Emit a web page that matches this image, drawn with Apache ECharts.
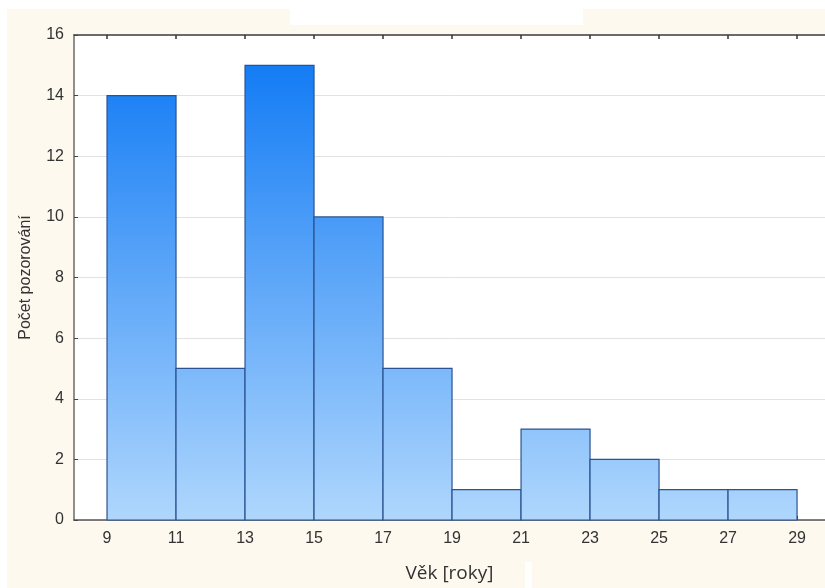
<!DOCTYPE html>
<html>
<head>
<meta charset="utf-8">
<script src="https://cdn.jsdelivr.net/npm/echarts@6/dist/echarts.min.js"></script>
<style>
html,body{margin:0;padding:0;background:#ffffff;}
#chart{width:825px;height:588px;}
</style>
</head>
<body>
<div id="chart"></div>
<script>
// Data
var binStarts = [9, 11, 13, 15, 17, 19, 21, 23, 25, 27];
var binEnds   = [11, 13, 15, 17, 19, 21, 23, 25, 27, 29];
var counts    = [14, 5, 15, 10, 5, 1, 3, 2, 1, 1];
var xTicks    = [9, 11, 13, 15, 17, 19, 21, 23, 25, 27, 29];
var xName = 'Věk [roky]';
var yName = 'Počet pozorování';

var chart = echarts.init(document.getElementById('chart'), null, {renderer: 'canvas'});

var barData = binStarts.map(function (s, i) { return [s, binEnds[i], counts[i]]; });

var gridTop = 35, gridBottomPx = 522;
var fill = new echarts.graphic.LinearGradient(0, gridTop, 0, gridBottomPx, [
  {offset: 0, color: '#0a76f4'},
  {offset: 1, color: '#b0d7fd'}
], true);

var option = {
  backgroundColor: '#fdf9ef',
  animation: false,
  graphic: [
    {type: 'rect', shape: {x: 0, y: 0, width: 825, height: 9}, style: {fill: '#ffffff'}, z: -10},
    {type: 'rect', shape: {x: 0, y: 0, width: 7, height: 588}, style: {fill: '#ffffff'}, z: -10},
    {type: 'rect', shape: {x: 290, y: 0, width: 293, height: 25}, style: {fill: '#ffffff'}, z: -10},
    {type: 'rect', shape: {x: 525, y: 562, width: 7, height: 26}, style: {fill: '#ffffff'}, z: -10},
    {type: 'rect', shape: {x: 74, y: 35, width: 751, height: 487}, style: {fill: '#ffffff'}, z: -9}
  ],
  grid: {left: 74, right: 0, top: gridTop, bottom: 588 - gridBottomPx, containLabel: false},
  xAxis: [
    {
      type: 'value', position: 'bottom', min: 8.043, max: 29.81,
      name: xName, nameLocation: 'middle', nameGap: 44,
      nameTextStyle: {fontFamily: 'Open Sans', fontSize: 19, color: '#333'},
      axisLine: {show: true, onZero: false, lineStyle: {color: '#555', width: 1.5}},
      axisTick: {show: true, inside: true, length: 4, customValues: xTicks, lineStyle: {color: '#333'}},
      axisLabel: {customValues: xTicks, margin: 11, fontFamily: 'Liberation Sans', fontSize: 16, color: '#333'},
      splitLine: {show: false}
    },
    {
      type: 'value', position: 'top', min: 8.043, max: 29.81,
      axisLine: {show: true, onZero: false, lineStyle: {color: '#6a6a6a', width: 2}},
      axisTick: {show: true, inside: true, length: 4, customValues: xTicks, lineStyle: {color: '#333', width: 1.5}},
      axisLabel: {show: false},
      splitLine: {show: false}
    }
  ],
  yAxis: {
    type: 'value', min: 0, max: 16, interval: 2,
    name: yName, nameLocation: 'middle', nameGap: 40, nameRotate: 90,
    nameTextStyle: {fontFamily: 'Liberation Sans', fontSize: 16, color: '#333'},
    axisLine: {show: true, lineStyle: {color: '#6a6a6a', width: 1.5}},
    axisTick: {show: true, inside: true, length: 4, lineStyle: {color: '#444'}},
    axisLabel: {margin: 10, fontFamily: 'Liberation Sans', fontSize: 16, color: '#333'},
    splitLine: {show: true, lineStyle: {color: '#e2e2e2', width: 1}}
  },
  series: [{
    type: 'custom',
    xAxisIndex: 0,
    data: barData,
    encode: {x: [0, 1], y: 2},
    renderItem: function (params, api) {
      var p0 = api.coord([api.value(0), api.value(2)]);
      var p1 = api.coord([api.value(1), 0]);
      return {
        type: 'rect',
        shape: {x: p0[0], y: p0[1], width: p1[0] - p0[0], height: p1[1] - p0[1]},
        style: {fill: fill, stroke: '#2b5391', lineWidth: 1.2}
      };
    }
  }]
};
chart.setOption(option);
</script>
</body>
</html>
